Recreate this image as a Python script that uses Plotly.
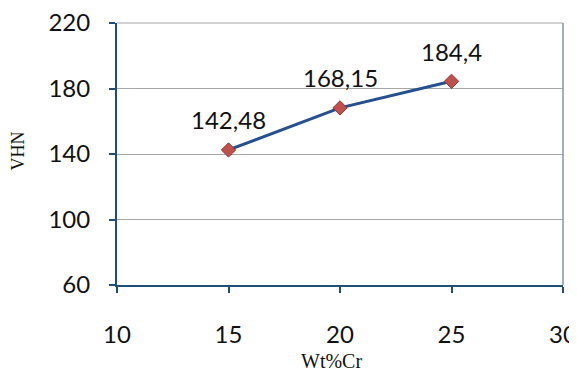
import plotly.graph_objects as go

wt_cr = [15, 20, 25]
vhn = [142.48, 168.15, 184.4]
labels = ["142,48", "168,15", "184,4"]
x_ticks = [10, 15, 20, 25, 30]
y_ticks = [60, 100, 140, 180, 220]

fig = go.Figure()
fig.add_trace(go.Scatter(
    x=wt_cr, y=vhn, mode="lines+markers",
    line=dict(color="#24508F", width=3),
    marker=dict(symbol="diamond", size=11, color="#C0504D",
                line=dict(color="#8C3836", width=1)),
    cliponaxis=False, showlegend=False,
))
for xv, yv, t in zip(wt_cr, vhn, labels):
    fig.add_annotation(x=xv, y=yv, text=t, showarrow=False, yshift=30,
                       font=dict(family="Lato", size=24, color="#111111"))

fig.add_annotation(xref="paper", yref="paper", x=0.481, y=0, yshift=-76,
                   text="Wt%Cr", showarrow=False,
                   font=dict(family="Times New Roman, Liberation Serif", size=20, color="#111111"),
                   xanchor="center", yanchor="middle")
fig.add_annotation(xref="paper", yref="paper", x=0, y=0.51, xshift=-99,
                   text="VHN", showarrow=False, textangle=-90,
                   font=dict(family="Times New Roman, Liberation Serif", size=18, color="#111111"),
                   xanchor="center", yanchor="middle")

fig.update_layout(
    width=569, height=366,
    margin=dict(l=109, r=14, t=15, b=89),
    paper_bgcolor="white", plot_bgcolor="white",
    xaxis=dict(range=[10, 30], tickvals=x_ticks, ticks="outside", ticklen=6,
               tickcolor="#1F4E79", tickwidth=2, automargin=False,
               ticklabeloverflow="allow",
               showline=True, linecolor="#1F4E79", linewidth=2, mirror=False,
               showgrid=False, zeroline=False, ticklabelstandoff=21,
               tickfont=dict(family="Lato", size=24, color="#111111")),
    yaxis=dict(range=[60, 220], tickvals=y_ticks, ticks="outside", ticklen=6,
               tickcolor="#1F4E79", tickwidth=2, automargin=False,
               ticklabeloverflow="allow",
               showline=True, linecolor="#1F4E79", linewidth=2,
               showgrid=True, gridcolor="#A6A6A6", gridwidth=1, zeroline=False,
               ticklabelstandoff=14,
               tickfont=dict(family="Lato", size=24, color="#111111")),
    shapes=[dict(type="line", xref="paper", yref="paper", x0=1, x1=1, y0=0, y1=1,
                 line=dict(color="#7F96B2", width=1.5)),
            dict(type="line", xref="paper", yref="paper", x0=0, x1=1, y0=1, y1=1,
                 line=dict(color="#A6A6A6", width=1))],
)
fig.write_html("out.html")
